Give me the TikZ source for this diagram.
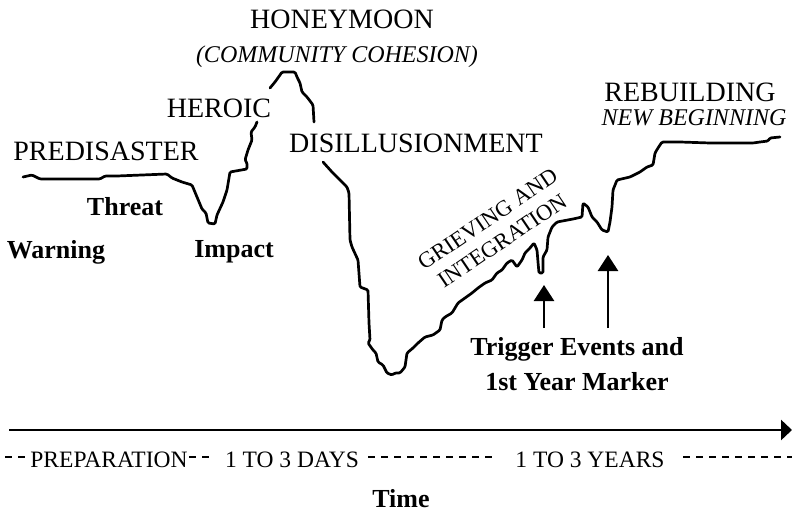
\documentclass[tikz,border=0pt]{standalone}
\usepackage{fontspec}
\setmainfont{Liberation Serif}
\usetikzlibrary{arrows.meta}
\begin{document}
\begin{tikzpicture}[x=1pt,y=-1pt,
  curve/.style={line width=2.7pt,line join=round,line cap=round,rounded corners=1.2pt},
  phase/.style={anchor=base,inner sep=0pt,font=\fontsize{28}{30}\selectfont},
  sub/.style={anchor=base,inner sep=0pt,font=\fontsize{24}{26}\selectfont\itshape},
  evt/.style={anchor=base,inner sep=0pt,font=\fontsize{26}{28}\selectfont\bfseries},
  per/.style={anchor=base,inner sep=0pt,font=\fontsize{23.5}{25}\selectfont},
  dsh/.style={line width=1.9pt,dash pattern=on 7pt off 6pt},
  marker/.style={line width=2.6pt,-{Triangle[width=20pt,length=16pt]}},
  axis/.style={line width=2.8pt,-{Triangle[width=20pt,length=11pt]}},
]
\useasboundingbox (0,0) rectangle (792,513);

% ---- curve ----
\draw[curve] (23,177) -- (32,175) -- (40,179) -- (100,179) -- (105,176) -- (117,176)
  -- (167,174) -- (172,178) -- (182,182) -- (192,185) -- (197,197) -- (202,209)
  -- (206,213) -- (208,223) -- (215,224) -- (217,215) -- (223,202) -- (227,190)
  -- (230,172) -- (247,169) -- (247,163) -- (245,160) -- (248,150) -- (252,140)
  -- (251,132) -- (255,127) -- (257,122);
\draw[curve] (270,88) -- (275,82) -- (280,75) -- (282,72) -- (295,72) -- (297,77)
  -- (300,83) -- (302,92) -- (307,97) -- (313,105) -- (314,122);
\draw[curve] (323,162) -- (332,172) -- (347,187) -- (349,193) -- (350,240) -- (352,247)
  -- (358,260) -- (360,287) -- (368,290) -- (369,323) -- (370,340) -- (368,343)
  -- (373,350) -- (376,353) -- (378,362) -- (383,365) -- (387,373) -- (392,375)
  -- (395,373) -- (400,373) -- (405,367) -- (407,353) -- (413,348) -- (418,343)
  -- (425,337) -- (433,335) -- (440,330) -- (442,320) -- (445,317) -- (452,313)
  -- (458,303) -- (465,298) -- (472,293) -- (478,288) -- (485,283) -- (492,280)
  -- (497,273) -- (502,270) -- (507,263) -- (512,260) -- (517,267) -- (522,260)
  -- (525,253) -- (530,248) -- (534,243) -- (537,250) -- (538,262) -- (539,273)
  -- (543,273) -- (543,257) -- (547,250) -- (548,237) -- (552,227) -- (557,222)
  -- (573,219) -- (582,217) -- (583,203) -- (588,207) -- (592,217) -- (597,222)
  -- (602,230) -- (608,232) -- (610,222) -- (612,207) -- (613,190) -- (617,180)
  -- (630,177) -- (640,172) -- (647,167) -- (653,165) -- (655,153) -- (658,148)
  -- (662,142) -- (680,142) -- (710,143) -- (753,143) -- (760,142) -- (768,141)
  -- (770,138) -- (780,137);

% ---- phase labels ----
\node[phase] (honey) at (342,29) {HONEYMOON};
\node[sub] (cohesion) at (337,63) {(COMMUNITY COHESION)};
\node[phase] (heroic) at (219,118) {HEROIC};
\node[phase] (predis) at (106,161) {PREDISASTER};
\node[phase] (disill) at (416,153) {DISILLUSIONMENT};
\node[phase] (rebuild) at (690,102) {REBUILDING};
\node[sub] (newbeg) at (694,126) {NEW BEGINNING};
\node[rotate=34,align=center,inner sep=0pt,font=\fontsize{22.5}{26}\selectfont]
  (grief) at (495,230) {GRIEVING AND\\INTEGRATION};

% ---- event labels ----
\node[evt] (threat) at (125,215) {Threat};
\node[evt] (warning) at (56,258) {Warning};
\node[evt] (impact) at (234,257) {Impact};
\node[evt] (trig) at (577,355) {Trigger Events and};
\node[evt] (year) at (577,390) {1st Year Marker};

% ---- trigger arrows ----
\coordinate (t1s) at (544,328);
\coordinate (t1) at (544,285);
\coordinate (t2s) at (608,328);
\coordinate (t2) at (608,255);
\draw[marker] (t1s) -- (t1);
\draw[marker] (t2s) -- (t2);

% ---- time axis ----
\coordinate (axs) at (9,430);
\coordinate (axe) at (792,430);
\draw[axis] (axs) -- (axe);

% ---- periods ----
\node[per] (prep) at (109,467) {PREPARATION};
\node[per] (days) at (292,467) {1 TO 3 DAYS};
\node[per] (years) at (590,467) {1 TO 3 YEARS};
\draw[dsh] (5,457) -- (27,457);
\draw[dsh] (189,457) -- (214,457);
\draw[dsh] (368,457) -- (493,457);
\draw[dsh] (683,457) -- (792,457);

\node[evt] (time) at (401,507) {Time};
\end{tikzpicture}
\end{document}
